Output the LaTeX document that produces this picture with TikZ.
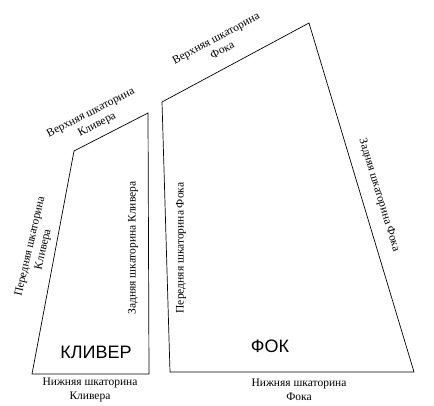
\documentclass[tikz,border=0pt]{standalone}
\usepackage{fontspec}
\setmainfont{Liberation Serif}
\newfontfamily\lblsans{Liberation Sans}
\begin{document}
\begin{tikzpicture}[x=1pt,y=-1pt,
  sail/.style={draw=black, line width=0.7pt, line join=miter},
  lbl/.style={font=\fontsize{11.5}{13.5}\selectfont, align=center, inner sep=0pt},
  big/.style={font=\lblsans\fontsize{18}{20}\selectfont, inner sep=0pt}]
\useasboundingbox (0,0) rectangle (434,406);
% jib corners
\coordinate (j1) at (74,151);
\coordinate (j2) at (148,113);
\coordinate (j3) at (149,374);
\coordinate (j4) at (32,374);
% fore sail corners
\coordinate (f1) at (162,102);
\coordinate (f2) at (309,23);
\coordinate (f3) at (414,372);
\coordinate (f4) at (170,372);
\draw[sail] (j1) -- (j2) -- (j3) -- (j4) -- cycle;
\draw[sail] (f1) -- (f2) -- (f3) -- (f4) -- cycle;
% labels
\node[lbl, rotate=27] (jtop) at (94,119) {Верхняя шкаторина\\Кливера};
\node[lbl, rotate=77] (jfront) at (37,248) {Передняя шкаторина\\Кливера};
\node[lbl, rotate=90] (jback) at (133,248) {Задняя шкаторина Кливера};
\node[lbl] (jbot) at (90,390) {Нижняя шкаторина\\Кливера};
\node[lbl, rotate=28] (ftop) at (219,44) {Верхняя шкаторина\\Фока};
\node[lbl, rotate=90] (ffront) at (181,248) {Передняя шкаторина Фока};
\node[lbl, rotate=-73] (fback) at (379,195) {Задняя шкаторина Фока};
\node[lbl] (fbot) at (299,390) {Нижняя шкаторина\\Фока};
\node[big] (jname) at (96,352) {КЛИВЕР};
\node[big] (fname) at (270,346) {ФОК};
\end{tikzpicture}
\end{document}
